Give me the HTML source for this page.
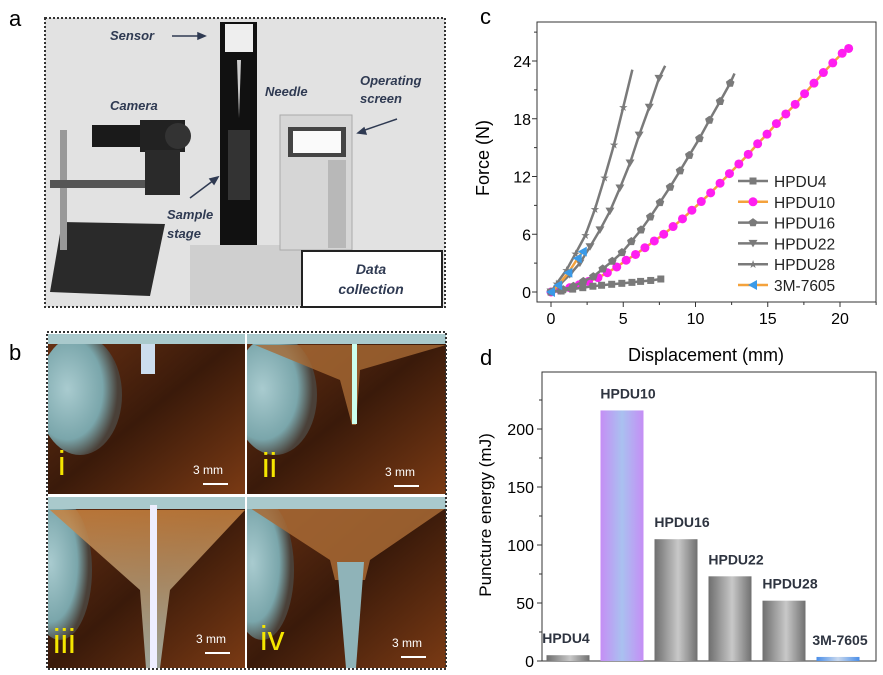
<!DOCTYPE html>
<html><head><meta charset="utf-8">
<style>
html,body{margin:0;padding:0;background:#fff;}
body{width:883px;height:675px;position:relative;overflow:hidden;font-family:"Liberation Sans",Arial,sans-serif;}
.abs{position:absolute;}
</style></head>
<body>
<svg width="883" height="675" viewBox="0 0 883 675" class="abs" style="left:0;top:0">
<defs>
<radialGradient id="ball" cx="0.35" cy="0.45" r="0.6"><stop offset="0" stop-color="#a9cbcf"/><stop offset="0.7" stop-color="#7aa6ab"/><stop offset="1" stop-color="#4a4038"/></radialGradient>
<linearGradient id="bg1" x1="0" y1="0" x2="1" y2="1"><stop offset="0" stop-color="#6a3214"/><stop offset="0.5" stop-color="#3a1a0a"/><stop offset="1" stop-color="#7a3a14"/></linearGradient>
<linearGradient id="gbar" x1="0" x2="1"><stop offset="0" stop-color="#6e6e6e"/><stop offset="0.55" stop-color="#c8c8c8"/><stop offset="1" stop-color="#707070"/></linearGradient>
<linearGradient id="pbar" x1="0" x2="1"><stop offset="0" stop-color="#c58ef5"/><stop offset="0.5" stop-color="#a9c1f0"/><stop offset="1" stop-color="#c58ef5"/></linearGradient>
<linearGradient id="bbar" x1="0" x2="1"><stop offset="0" stop-color="#4a8ee8"/><stop offset="0.5" stop-color="#c8d8ee"/><stop offset="1" stop-color="#4a8ee8"/></linearGradient>
<linearGradient id="film" x1="0" y1="0" x2="0" y2="1"><stop offset="0" stop-color="#c7813e"/><stop offset="1" stop-color="#a8b8b0"/></linearGradient>
<clipPath id="c1"><rect x="48" y="334" width="197" height="160"/></clipPath>
<clipPath id="c2"><rect x="247" y="334" width="199" height="160"/></clipPath>
<clipPath id="c3"><rect x="48" y="497" width="197" height="171"/></clipPath>
<clipPath id="c4"><rect x="247" y="497" width="199" height="171"/></clipPath>
</defs>

<text x="9" y="26" font-size="22">a</text>
<text x="9" y="360" font-size="22">b</text>
<text x="480" y="24" font-size="22">c</text>
<text x="480" y="365" font-size="22">d</text>

<g>
<rect x="45" y="18" width="400" height="289" fill="#e2e2e2"/>
<polygon points="50,292 62,222 165,224 150,296" fill="#2a2a2a"/>
<rect x="60" y="130" width="7" height="120" fill="#999"/>
<rect x="50" y="180" width="130" height="8" fill="#555"/>
<rect x="92" y="125" width="50" height="22" fill="#1a1a1a"/>
<rect x="140" y="120" width="45" height="32" fill="#222"/>
<circle cx="178" cy="136" r="13" fill="#333"/>
<rect x="145" y="150" width="35" height="45" fill="#2a2a2a"/>
<rect x="220" y="22" width="37" height="233" fill="#111"/>
<rect x="225" y="24" width="28" height="28" fill="#eee"/>
<polygon points="237,60 241,60 239,118" fill="#ccc"/>
<rect x="228" y="130" width="22" height="70" fill="#333"/>
<rect x="190" y="245" width="112" height="60" fill="#cfcfcf"/>
<rect x="280" y="115" width="72" height="135" fill="#d6d6d6" stroke="#aaa"/>
<rect x="288" y="127" width="58" height="30" fill="#444"/>
<rect x="293" y="131" width="48" height="22" fill="#fafafa"/>
<rect x="328" y="160" width="18" height="88" fill="#b8b8b8"/>
</g>
<rect x="45" y="18" width="400" height="289" fill="none" stroke="#333" stroke-width="2" stroke-dasharray="2,2"/>
<g font-weight="bold" font-style="italic" fill="#2f3a52" font-size="13">
<text x="110" y="40">Sensor</text>
<text x="110" y="110">Camera</text>
<text x="265" y="96">Needle</text>
<text x="360" y="85"><tspan x="360">Operating</tspan><tspan x="360" dy="18">screen</tspan></text>
<text x="167" y="219"><tspan x="167">Sample</tspan><tspan x="167" dy="19">stage</tspan></text>
</g>
<g stroke="#2f3a52" stroke-width="1.5" fill="#2f3a52">
<line x1="172" y1="36" x2="200" y2="36"/><polygon points="205,36 198,33 198,39"/>
<line x1="397" y1="119" x2="362" y2="131"/><polygon points="358,133 364,128 366,134"/>
<line x1="190" y1="198" x2="214" y2="180"/><polygon points="218,177 210,179 214,184"/>
</g>
<rect x="302" y="251" width="140" height="56" fill="#fff" stroke="#222" stroke-width="2"/>
<text x="371" y="274" text-anchor="middle" font-size="14" font-weight="bold" font-style="italic" fill="#2f3a52"><tspan x="371">Data</tspan><tspan x="371" dy="20">collection</tspan></text>

<g>
<rect x="47" y="332" width="399" height="337" fill="#fff"/>
<g clip-path="url(#c1)"><rect x="48" y="334" width="197" height="160" fill="url(#bg1)"/><ellipse cx="80" cy="395" rx="42" ry="60" fill="url(#ball)"/><rect x="48" y="334" width="197" height="10" fill="#a9c9cc"/><rect x="141" y="344" width="14" height="30" fill="#cde"/></g>
<g clip-path="url(#c2)"><rect x="247" y="334" width="199" height="160" fill="url(#bg1)"/><ellipse cx="275" cy="395" rx="42" ry="60" fill="url(#ball)"/><polygon points="255,345 446,345 360,370 356,425 352,425 340,380" fill="#a86a35" opacity="0.8"/><rect x="247" y="334" width="199" height="10" fill="#a9c9cc"/><rect x="352" y="344" width="5" height="80" fill="#cfe"/></g>
<g clip-path="url(#c3)"><rect x="48" y="497" width="197" height="171" fill="url(#bg1)"/><ellipse cx="60" cy="570" rx="32" ry="70" fill="url(#ball)"/><polygon points="50,510 245,510 170,590 160,668 146,668 140,590" fill="url(#film)" opacity="0.85"/><rect x="48" y="497" width="197" height="12" fill="#a9c9cc"/><rect x="150" y="505" width="7" height="163" fill="#eef"/></g>
<g clip-path="url(#c4)"><rect x="247" y="497" width="199" height="171" fill="url(#bg1)"/><ellipse cx="262" cy="570" rx="32" ry="70" fill="url(#ball)"/><polygon points="250,508 446,508 370,560 365,580 335,580 330,560" fill="#a86a35" opacity="0.85"/><polygon points="337,562 364,562 356,668 346,668" fill="#8fb3b8"/><rect x="247" y="497" width="199" height="12" fill="#a9c9cc"/></g>
</g>
<rect x="47" y="332" width="399" height="337" fill="none" stroke="#333" stroke-width="2" stroke-dasharray="2,2"/>
<g fill="#f5e600" font-size="34">
<text x="58" y="475">i</text>
<text x="262" y="477">ii</text>
<text x="53" y="653">iii</text>
<text x="260" y="650">iv</text>
</g>
<g fill="#fff" font-size="12">
<text x="193" y="474">3 mm</text><rect x="203" y="483" width="25" height="2"/>
<text x="385" y="476">3 mm</text><rect x="394" y="485" width="25" height="2"/>
<text x="196" y="643">3 mm</text><rect x="205" y="652" width="25" height="2"/>
<text x="392" y="647">3 mm</text><rect x="401" y="656" width="25" height="2"/>
</g>

<g id="chartC"></g>
<g id="chartD"></g>
</svg>

<script>
const xTicksC = [0,5,10,15,20];
const yTicksC = [0,6,12,18,24];
const seriesNames = ["HPDU4","HPDU10","HPDU16","HPDU22","HPDU28","3M-7605"];
const hpdu4X = [0,0.7,1.5,2.2,2.9,3.5,4.2,4.9,5.6,6.2,6.9,7.6,7.8];
const hpdu4Y = [0,0.1,0.3,0.45,0.6,0.7,0.8,0.9,1.0,1.1,1.2,1.35,1.4];
const hpdu10X = [0,0.65,1.3,1.95,2.6,3.25,3.9,4.55,5.2,5.85,6.5,7.15,7.8,8.45,9.1,9.75,10.4,11.05,11.7,12.35,13.0,13.65,14.3,14.95,15.6,16.25,16.9,17.55,18.2,18.85,19.5,20.15,20.6];
const hpdu10Y = [0,0.2,0.45,0.75,1.1,1.5,2.0,2.6,3.3,3.9,4.6,5.3,6.0,6.8,7.6,8.5,9.4,10.3,11.3,12.3,13.3,14.3,15.4,16.4,17.5,18.5,19.5,20.6,21.7,22.8,23.8,24.8,25.3];
const hpdu16X = [0,0.85,1.55,2.24,2.93,3.58,4.24,4.91,5.56,6.23,6.87,7.54,8.24,8.93,9.57,10.27,10.96,11.7,12.4,12.7];
const hpdu16Y = [0,0.25,0.6,1.1,1.6,2.4,3.2,4.1,5.25,6.45,7.8,9.3,10.9,12.6,14.2,15.95,17.85,19.8,21.7,22.7];
const hpdu22X = [0,0.62,1.3,2.0,2.7,3.39,4.08,4.77,5.47,6.1,6.8,7.47,7.9];
const hpdu22Y = [0,0.8,1.8,3.0,4.7,6.45,8.4,10.8,13.4,16.3,19.2,22.2,23.5];
const hpdu28X = [0,0.4,1.08,1.7,2.38,3.04,3.71,4.36,5.0,5.63];
const hpdu28Y = [0,0.9,2.3,4.0,5.9,8.6,11.9,15.3,19.2,23.1];
const m3X = [0,0.5,1.2,1.85,2.2];
const m3Y = [0,0.7,2.0,3.5,4.2];

const barCats = ["HPDU4","HPDU10","HPDU16","HPDU22","HPDU28","3M-7605"];
const barVals = [5,216,105,73,52,3.5];
const yTicksD = [0,50,100,150,200];

const NS="http://www.w3.org/2000/svg";
function mk(tag,attrs,parent){const e=document.createElementNS(NS,tag);for(const k in attrs)e.setAttribute(k,attrs[k]);parent.appendChild(e);return e;}

(function(){
const g=document.getElementById('chartC');
const L=537,R=876,T=22,B=302;
const sx=v=>551+v*14.45, sy=v=>292-v*9.625;
const frame=mk('rect',{x:L,y:T,width:R-L,height:B-T,fill:'none',stroke:'#333','stroke-width':1},g);


xTicksC.forEach(t=>{
  mk('line',{x1:sx(t),x2:sx(t),y1:B,y2:B+5,stroke:'#333'},g);
  const tx=mk('text',{x:sx(t),y:B+22,'text-anchor':'middle','font-size':16},g);tx.textContent=t;
  
  
});
for(let t=2.5;t<=22.5;t+=5){mk('line',{x1:sx(t),x2:sx(t),y1:B,y2:B+3,stroke:'#333'},g);}
yTicksC.forEach(t=>{
  mk('line',{x1:L-5,x2:L,y1:sy(t),y2:sy(t),stroke:'#333'},g);
  const tx=mk('text',{x:L-6,y:sy(t)+6,'text-anchor':'end','font-size':16},g);tx.textContent=t;
  
  
});
for(let t=3;t<=27;t+=6){mk('line',{x1:L-3,x2:L,y1:sy(t),y2:sy(t),stroke:'#333'},g);}
const xt=mk('text',{x:706,y:361,'text-anchor':'middle','font-size':18},g);xt.textContent='Displacement (mm)';


const yt=mk('text',{x:0,y:0,'text-anchor':'middle','font-size':18,transform:'translate(489,158) rotate(-90)'},g);yt.textContent='Force (N)';



function marker(type,x,y,color,p){
  let e;
  if(type==='sq') e=mk('rect',{x:x-3.5,y:y-3.5,width:7,height:7,fill:color},p);
  else if(type==='ci') e=mk('circle',{cx:x,cy:y,r:4.5,fill:color},p);
  else if(type==='pent') e=mk('polygon',{points:`${x},${y-4.5} ${x+4.3},${y-1.4} ${x+2.7},${y+3.6} ${x-2.7},${y+3.6} ${x-4.3},${y-1.4}`,fill:color},p);
  else if(type==='tri') e=mk('polygon',{points:`${x-4.5},${y-3.5} ${x+4.5},${y-3.5} ${x},${y+4}`,fill:color},p);
  else if(type==='star') e=mk('text',{x:x,y:y+4,'text-anchor':'middle','font-size':11,fill:color},p),e.textContent='★';
  else if(type==='ltri') e=mk('polygon',{points:`${x-5},${y} ${x+4},${y-5} ${x+4},${y+5}`,fill:color},p);
  
  
}
const series=[
 {xs:hpdu10X,ys:hpdu10Y,line:'#f4a23c',mc:'#ff1ef0',m:'ci'},
 {xs:hpdu4X,ys:hpdu4Y,line:'#7a7a7a',mc:'#7a7a7a',m:'sq'},
 {xs:hpdu16X,ys:hpdu16Y,line:'#7a7a7a',mc:'#7a7a7a',m:'pent'},
 {xs:hpdu22X,ys:hpdu22Y,line:'#7a7a7a',mc:'#7a7a7a',m:'tri'},
 {xs:hpdu28X,ys:hpdu28Y,line:'#7a7a7a',mc:'#7a7a7a',m:'star'},
 {xs:m3X,ys:m3Y,line:'#f4a23c',mc:'#3a9ae8',m:'ltri'}
];
series.forEach(s=>{
  const sg=mk('g',{},g);
  
  
  const pts=s.xs.map((x,i)=>sx(x)+','+sy(s.ys[i])).join(' ');
  mk('polyline',{points:pts,fill:'none',stroke:s.line,'stroke-width':2.5},sg);
  s.xs.forEach((x,i)=>{ if(s.m!=='ci' && i===s.xs.length-1 && s.xs.length>5) return; marker(s.m,sx(x),sy(s.ys[i]),s.mc,sg);});
});
const lg=mk('g',{},g);


const legM=[['#7a7a7a','#7a7a7a','sq'],['#f4a23c','#ff1ef0','ci'],['#7a7a7a','#7a7a7a','pent'],['#7a7a7a','#7a7a7a','tri'],['#7a7a7a','#7a7a7a','star'],['#f4a23c','#3a9ae8','ltri']];
seriesNames.forEach((n,i)=>{
  const y=181+i*20.8;
  const eg=mk('g',{},lg);
  
  
  mk('line',{x1:738,x2:768,y1:y,y2:y,stroke:legM[i][0],'stroke-width':2.5},eg);
  marker(legM[i][2],753,y,legM[i][1],eg);
  const t=mk('text',{x:774,y:y+6,'font-size':15.5,fill:'#222'},eg);t.textContent=n;
});
})();

(function(){
const g=document.getElementById('chartD');
const L=542,R=876,T=372,B=661;
const sy=v=>B-v*1.16;
const bx=i=>568+i*54;
const frame=mk('rect',{x:L,y:T,width:R-L,height:B-T,fill:'none',stroke:'#333','stroke-width':1},g);


yTicksD.forEach(t=>{
  mk('line',{x1:L-5,x2:L,y1:sy(t),y2:sy(t),stroke:'#333'},g);
  const tx=mk('text',{x:L-8,y:sy(t)+6,'text-anchor':'end','font-size':16},g);tx.textContent=t;
  
  
});
for(let t=25;t<=225;t+=50){mk('line',{x1:L-3,x2:L,y1:sy(t),y2:sy(t),stroke:'#333'},g);}
const yt=mk('text',{x:0,y:0,'text-anchor':'middle','font-size':17,transform:'translate(491,515) rotate(-90)'},g);yt.textContent='Puncture energy (mJ)';


const fills=['url(#gbar)','url(#pbar)','url(#gbar)','url(#gbar)','url(#gbar)','url(#bbar)'];
barCats.forEach((c,i)=>{
  const b=mk('rect',{x:bx(i)-21.5,y:sy(barVals[i]),width:43,height:B-sy(barVals[i]),fill:fills[i]},g);
  
  
  const t=mk('text',{x:bx(i)+(i===0?-2:i===5?2:6),y:sy(barVals[i])-12,'text-anchor':'middle','font-size':14,'font-weight':'bold',fill:'#2e3440'},g);
  t.textContent=c;
  
  
});
})();
</script>
</body></html>
